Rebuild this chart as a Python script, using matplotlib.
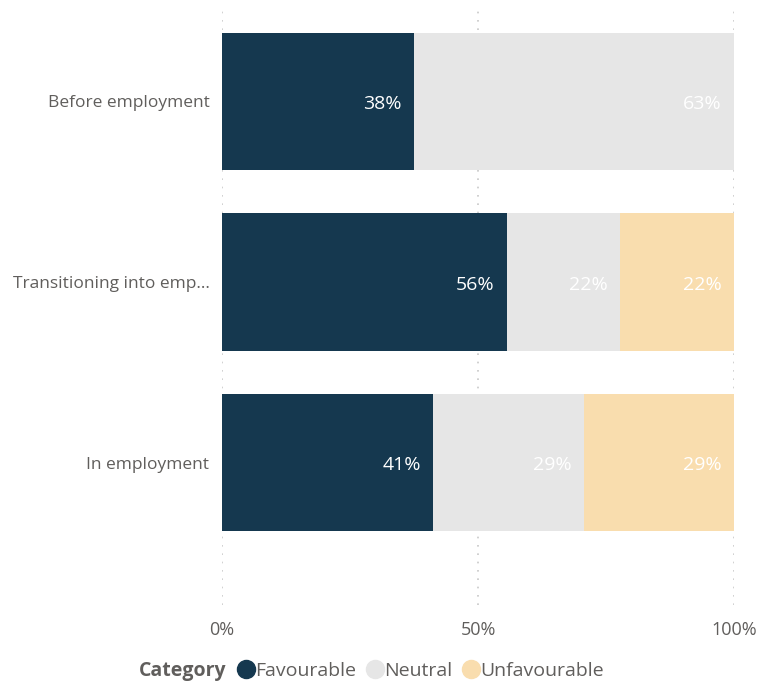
import matplotlib.pyplot as plt
from matplotlib.lines import Line2D
import numpy as np

plt.rcParams['font.family'] = ['Open Sans', 'DejaVu Sans']

# data
groups = ["Before employment", "Transitioning into emp\u2026", "In employment"]
series = ["Favourable", "Neutral", "Unfavourable"]
favourable = [37.5, 55.6, 41.2]
neutral = [62.5, 22.2, 29.4]
unfavourable = [0.0, 22.2, 29.4]
colors = ["#15384f", "#e6e6e6", "#f9ddae"]
label_color = "#605e5c"

fig = plt.figure(figsize=(7.6, 6.87), dpi=100)
ax = fig.add_axes([0.292, 0.119, 0.674, 0.865])

y = np.arange(len(groups))
left = np.zeros(len(groups))
for name, vals, col in zip(series, [favourable, neutral, unfavourable], colors):
    vals = np.array(vals)
    ax.barh(y, vals, left=left, height=0.76, color=col, zorder=2)
    for yi, l, v in zip(y, left, vals):
        if v > 0:
            # round half up, like the source
            ax.text(l + v - 2.4, yi + 0.015, f"{int(v + 0.5)}%", ha="right", va="center",
                    color="white", fontsize=14, zorder=3)
    left += vals

ax.set_xlim(0, 100)
ax.set_ylim(2.79, -0.5)
ax.set_yticks(y)
ax.set_yticklabels(groups, fontsize=12.5, color=label_color)
ax.set_xticks([0, 50, 100])
ax.set_xticklabels(["0%", "50%", "100%"], fontsize=13, color=label_color)
ax.tick_params(length=0, pad=9)
ax.tick_params(axis="x", pad=11)
ax.xaxis.grid(True, linestyle=(0, (1, 4)), color="#c8c8c8", linewidth=1.2, zorder=0)
for s in ax.spines.values():
    s.set_visible(False)

# legend
handles = [Line2D([], [], linestyle="none", marker="none")]
handles += [Line2D([], [], linestyle="none", marker="o", markersize=13,
                   markerfacecolor=c, markeredgecolor=c) for c in colors]
leg = fig.legend(handles, ["Category"] + series, loc="center", ncol=4,
                 bbox_to_anchor=(0.478, 0.023), frameon=False, fontsize=14,
                 handlelength=0.75, handletextpad=0.1, columnspacing=0.6)
for t in leg.get_texts():
    t.set_color(label_color)
leg.get_texts()[0].set_fontweight("bold")

fig.savefig("out.png", dpi=100)
